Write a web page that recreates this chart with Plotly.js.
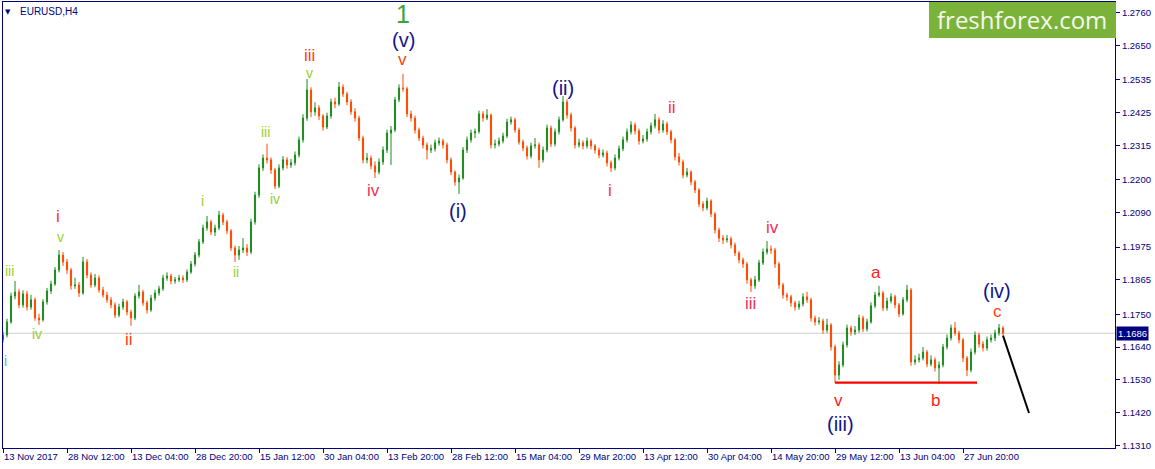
<!DOCTYPE html>
<html><head><meta charset="utf-8">
<script src="https://cdn.plot.ly/plotly-3.0.1.min.js"></script>
<style>html,body{margin:0;padding:0;background:#fff}#chart{width:1155px;height:469px}</style>
</head><body><div id="chart"></div>
<script>
// ---- data: EURUSD, one candle per 4 chart bars (H4) ----
const openP = [
1.1665,1.1680,1.1724,1.1811,1.1824,1.1781,1.1818,1.1774,1.1798,1.1737,
1.1731,1.1791,1.1828,1.1851,1.1898,1.1948,1.1925,1.1898,1.1845,1.1848,
1.1821,1.1925,1.1881,1.1848,1.1871,1.1831,1.1814,1.1798,1.1781,1.1747,
1.1774,1.1791,1.1757,1.1737,1.1811,1.1824,1.1788,1.1764,1.1804,1.1821,
1.1835,1.1871,1.1878,1.1861,1.1865,1.1871,1.1865,1.1891,1.1918,1.1948,
1.1992,1.2039,1.2059,1.2025,1.2039,1.2082,1.2059,1.2029,1.1972,1.1948,
1.1965,1.1972,1.1958,1.2059,1.2149,1.2240,1.2273,1.2267,1.2233,1.2179,
1.2240,1.2267,1.2250,1.2257,1.2283,1.2334,1.2407,1.2501,1.2428,1.2441,
1.2414,1.2377,1.2414,1.2461,1.2454,1.2511,1.2488,1.2461,1.2428,1.2407,
1.2340,1.2267,1.2273,1.2247,1.2226,1.2260,1.2300,1.2357,1.2367,1.2468,
1.2508,1.2505,1.2421,1.2407,1.2367,1.2340,1.2317,1.2300,1.2304,1.2324,
1.2330,1.2317,1.2267,1.2226,1.2193,1.2206,1.2300,1.2334,1.2357,1.2362,
1.2421,1.2407,1.2417,1.2317,1.2320,1.2330,1.2347,1.2394,1.2401,1.2367,
1.2327,1.2307,1.2280,1.2314,1.2317,1.2267,1.2300,1.2374,1.2320,1.2361,
1.2401,1.2461,1.2417,1.2374,1.2317,1.2324,1.2314,1.2330,1.2314,1.2300,
1.2283,1.2290,1.2257,1.2240,1.2273,1.2304,1.2334,1.2361,1.2384,1.2364,
1.2330,1.2337,1.2361,1.2381,1.2401,1.2367,1.2387,1.2361,1.2334,1.2277,
1.2260,1.2216,1.2226,1.2193,1.2166,1.2119,1.2106,1.2129,1.2086,1.2032,
1.2005,1.1999,1.2002,1.1982,1.1955,1.1932,1.1918,1.1865,1.1845,1.1865,
1.1922,1.1958,1.1968,1.1965,1.1918,1.1848,1.1814,1.1808,1.1788,1.1774,
1.1784,1.1808,1.1798,1.1737,1.1724,1.1727,1.1697,1.1714,1.1640,1.1546,
1.1580,1.1647,1.1704,1.1690,1.1697,1.1737,1.1701,1.1724,1.1778,1.1814,
1.1821,1.1771,1.1794,1.1808,1.1781,1.1751,1.1798,1.1831,1.1590,1.1597,
1.1603,1.1623,1.1583,1.1597,1.1570,1.1580,1.1640,1.1670,1.1704,1.1687,
1.1664,1.1603,1.1563,1.1623,1.1680,1.1650,1.1637,1.1664,1.1670,1.1687,
1.1704];
const highP = [
1.1692,1.1735,1.1822,1.1861,1.1835,1.1830,1.1828,1.1815,1.1806,1.1752,
1.1800,1.1838,1.1862,1.1908,1.1965,1.1958,1.1935,1.1905,1.1872,1.1858,
1.1942,1.1935,1.1890,1.1885,1.1880,1.1842,1.1825,1.1808,1.1790,1.1785,
1.1802,1.1798,1.1765,1.1820,1.1848,1.1832,1.1796,1.1815,1.1832,1.1845,
1.1882,1.1890,1.1885,1.1875,1.1882,1.1880,1.1900,1.1928,1.1958,1.2002,
1.2050,1.2079,1.2066,1.2050,1.2096,1.2090,1.2066,1.2035,1.1980,1.1978,
1.2005,1.1985,1.2070,1.2160,1.2252,1.2285,1.2321,1.2275,1.2240,1.2252,
1.2280,1.2276,1.2270,1.2295,1.2345,1.2420,1.2538,1.2510,1.2460,1.2450,
1.2420,1.2425,1.2472,1.2475,1.2528,1.2520,1.2495,1.2470,1.2440,1.2415,
1.2348,1.2290,1.2282,1.2262,1.2272,1.2312,1.2368,1.2380,1.2478,1.2520,
1.2555,1.2512,1.2432,1.2415,1.2375,1.2348,1.2325,1.2318,1.2335,1.2342,
1.2338,1.2325,1.2275,1.2232,1.2218,1.2310,1.2345,1.2368,1.2372,1.2432,
1.2430,1.2437,1.2422,1.2335,1.2342,1.2358,1.2405,1.2412,1.2408,1.2375,
1.2335,1.2315,1.2325,1.2340,1.2325,1.2312,1.2385,1.2382,1.2372,1.2412,
1.2481,1.2470,1.2425,1.2380,1.2338,1.2332,1.2342,1.2338,1.2320,1.2308,
1.2302,1.2298,1.2265,1.2285,1.2315,1.2345,1.2372,1.2396,1.2392,1.2372,
1.2350,1.2372,1.2392,1.2421,1.2410,1.2400,1.2395,1.2368,1.2340,1.2290,
1.2268,1.2240,1.2232,1.2200,1.2172,1.2128,1.2140,1.2135,1.2092,1.2040,
1.2015,1.2015,1.2010,1.1990,1.1962,1.1940,1.1925,1.1872,1.1878,1.1932,
1.1970,1.1995,1.1980,1.1972,1.1925,1.1855,1.1822,1.1815,1.1795,1.1795,
1.1820,1.1825,1.1805,1.1745,1.1740,1.1735,1.1735,1.1720,1.1648,1.1592,
1.1658,1.1715,1.1712,1.1710,1.1748,1.1745,1.1735,1.1790,1.1825,1.1845,
1.1828,1.1805,1.1820,1.1815,1.1788,1.1808,1.1848,1.1838,1.1612,1.1618,
1.1640,1.1630,1.1612,1.1605,1.1592,1.1650,1.1682,1.1715,1.1724,1.1695,
1.1670,1.1610,1.1635,1.1692,1.1688,1.1660,1.1675,1.1682,1.1698,1.1717,
1.1710];
const lowP = [
1.1655,1.1672,1.1718,1.1800,1.1770,1.1772,1.1762,1.1765,1.1728,1.1714,
1.1725,1.1782,1.1818,1.1845,1.1890,1.1912,1.1885,1.1832,1.1835,1.1808,
1.1815,1.1870,1.1838,1.1840,1.1822,1.1805,1.1788,1.1770,1.1737,1.1740,
1.1765,1.1746,1.1711,1.1730,1.1802,1.1778,1.1752,1.1758,1.1795,1.1812,
1.1828,1.1862,1.1850,1.1852,1.1858,1.1855,1.1858,1.1885,1.1910,1.1940,
1.1985,1.2030,1.2015,1.2012,1.2032,1.2048,1.2018,1.1962,1.1925,1.1932,
1.1955,1.1945,1.1952,1.2050,1.2140,1.2230,1.2255,1.2220,1.2169,1.2172,
1.2232,1.2238,1.2240,1.2248,1.2275,1.2325,1.2398,1.2410,1.2415,1.2400,
1.2365,1.2370,1.2405,1.2440,1.2448,1.2478,1.2450,1.2418,1.2395,1.2330,
1.2255,1.2255,1.2235,1.2206,1.2218,1.2250,1.2290,1.2250,1.2360,1.2460,
1.2495,1.2410,1.2395,1.2355,1.2330,1.2305,1.2268,1.2290,1.2295,1.2315,
1.2305,1.2255,1.2215,1.2180,1.2153,1.2200,1.2290,1.2325,1.2340,1.2355,
1.2395,1.2400,1.2305,1.2305,1.2312,1.2322,1.2340,1.2385,1.2358,1.2318,
1.2296,1.2268,1.2272,1.2305,1.2240,1.2258,1.2292,1.2310,1.2312,1.2352,
1.2395,1.2405,1.2362,1.2305,1.2308,1.2302,1.2305,1.2302,1.2288,1.2272,
1.2275,1.2245,1.2226,1.2232,1.2265,1.2296,1.2325,1.2352,1.2352,1.2318,
1.2322,1.2328,1.2352,1.2372,1.2355,1.2358,1.2350,1.2322,1.2265,1.2248,
1.2205,1.2208,1.2182,1.2155,1.2108,1.2095,1.2098,1.2075,1.2020,1.1992,
1.1985,1.1990,1.1970,1.1945,1.1920,1.1905,1.1852,1.1824,1.1835,1.1858,
1.1915,1.1950,1.1952,1.1905,1.1835,1.1802,1.1795,1.1775,1.1762,1.1765,
1.1776,1.1788,1.1725,1.1712,1.1715,1.1685,1.1688,1.1628,1.1520,1.1530,
1.1572,1.1638,1.1678,1.1680,1.1688,1.1690,1.1692,1.1718,1.1770,1.1808,
1.1760,1.1762,1.1786,1.1770,1.1740,1.1745,1.1790,1.1577,1.1580,1.1588,
1.1595,1.1572,1.1575,1.1558,1.1516,1.1572,1.1632,1.1662,1.1678,1.1652,
1.1590,1.1543,1.1555,1.1615,1.1638,1.1625,1.1628,1.1655,1.1660,1.1678,
1.1678];
const closeP = [
1.1680,1.1724,1.1811,1.1824,1.1781,1.1818,1.1774,1.1798,1.1737,1.1731,
1.1791,1.1828,1.1851,1.1898,1.1948,1.1925,1.1898,1.1845,1.1848,1.1821,
1.1925,1.1881,1.1848,1.1871,1.1831,1.1814,1.1798,1.1781,1.1747,1.1774,
1.1791,1.1757,1.1737,1.1811,1.1824,1.1788,1.1764,1.1804,1.1821,1.1835,
1.1871,1.1878,1.1861,1.1865,1.1871,1.1865,1.1891,1.1918,1.1948,1.1992,
1.2039,1.2059,1.2025,1.2039,1.2082,1.2059,1.2029,1.1972,1.1948,1.1965,
1.1972,1.1958,1.2059,1.2149,1.2240,1.2273,1.2267,1.2233,1.2179,1.2240,
1.2267,1.2250,1.2257,1.2283,1.2334,1.2407,1.2501,1.2428,1.2441,1.2414,
1.2377,1.2414,1.2461,1.2454,1.2511,1.2488,1.2461,1.2428,1.2407,1.2340,
1.2267,1.2273,1.2247,1.2226,1.2260,1.2300,1.2357,1.2367,1.2468,1.2508,
1.2505,1.2421,1.2407,1.2367,1.2340,1.2317,1.2300,1.2304,1.2324,1.2330,
1.2317,1.2267,1.2226,1.2193,1.2206,1.2300,1.2334,1.2357,1.2362,1.2421,
1.2407,1.2417,1.2317,1.2320,1.2330,1.2347,1.2394,1.2401,1.2367,1.2327,
1.2307,1.2280,1.2314,1.2317,1.2267,1.2300,1.2374,1.2320,1.2361,1.2401,
1.2461,1.2417,1.2374,1.2317,1.2324,1.2314,1.2330,1.2314,1.2300,1.2283,
1.2290,1.2257,1.2240,1.2273,1.2304,1.2334,1.2361,1.2384,1.2364,1.2330,
1.2337,1.2361,1.2381,1.2401,1.2367,1.2387,1.2361,1.2334,1.2277,1.2260,
1.2216,1.2226,1.2193,1.2166,1.2119,1.2106,1.2129,1.2086,1.2032,1.2005,
1.1999,1.2002,1.1982,1.1955,1.1932,1.1918,1.1865,1.1845,1.1865,1.1922,
1.1958,1.1968,1.1965,1.1918,1.1848,1.1814,1.1808,1.1788,1.1774,1.1784,
1.1808,1.1798,1.1737,1.1724,1.1727,1.1697,1.1714,1.1640,1.1546,1.1580,
1.1647,1.1704,1.1690,1.1697,1.1737,1.1701,1.1724,1.1778,1.1814,1.1821,
1.1771,1.1794,1.1808,1.1781,1.1751,1.1798,1.1831,1.1590,1.1597,1.1603,
1.1623,1.1583,1.1597,1.1570,1.1580,1.1640,1.1670,1.1704,1.1687,1.1664,
1.1603,1.1563,1.1623,1.1680,1.1650,1.1637,1.1664,1.1670,1.1687,1.1704,
1.1686];
const dateLabels = ["13 Nov 2017","28 Nov 12:00","13 Dec 04:00","28 Dec 20:00","15 Jan 12:00",
  "30 Jan 04:00","13 Feb 20:00","28 Feb 12:00","15 Mar 04:00","29 Mar 20:00","13 Apr 12:00",
  "30 Apr 04:00","14 May 20:00","29 May 12:00","13 Jun 04:00","27 Jun 20:00"];
const priceTicks = [1.2760,1.2650,1.2535,1.2425,1.2315,1.2200,1.2090,1.1975,1.1865,1.1750,1.1640,1.1530,1.1420,1.1310];
const lastPrice = 1.1686;
const supportPrice = 1.1521;
const symbolTitle = "EURUSD,H4";

// ---- chart ----
const BARS_PER_LABEL = 16;
const idx = closeP.map((_, i) => i);
const NAVY = '#000080';
const FONT = '"Liberation Sans", Arial, sans-serif';

const trace = {
  type: 'candlestick', x: idx, open: openP, high: highP, low: lowP, close: closeP,
  increasing: {line: {color: '#1f8a1f', width: 1}, fillcolor: '#1f8a1f'},
  decreasing: {line: {color: '#ff4a00', width: 1}, fillcolor: '#ff4a00'},
  whiskerwidth: 0, hoverinfo: 'skip', showlegend: false
};

const GREEN = '#9acd32', TEAL = '#55bba8', CRIMSON = '#f52d55', RED = '#ff2020', ORANGE = '#ff4010', WAVE = '#14148c';
const waveLabels = [
  ['iii', 1.5, 1.1895, GREEN, 14], ['i', 0.6, 1.1593, TEAL, 14], ['iv', 8.5, 1.1683, GREEN, 14],
  ['v', 14.25, 1.2007, GREEN, 14], ['i', 49.75, 1.2129, GREEN, 14], ['ii', 58.25, 1.1891, GREEN, 14],
  ['iii', 65.5, 1.2360, GREEN, 14], ['iv', 68, 1.2136, GREEN, 14], ['v', 76.5, 1.2558, GREEN, 14],
  ['i', 13.75, 1.2076, CRIMSON, 17], ['ii', 31.5, 1.1664, ORANGE, 17], ['iii', 76.5, 1.2615, ORANGE, 17],
  ['v', 99.75, 1.2603, ORANGE, 17], ['iv', 92.5, 1.2166, CRIMSON, 17], ['ii', 167.25, 1.2441, CRIMSON, 17],
  ['i', 151.75, 1.2163, CRIMSON, 17], ['iv', 192.25, 1.2042, CRIMSON, 17], ['iii', 186.75, 1.1785, CRIMSON, 17],
  ['v', 208.75, 1.1462, RED, 17], ['a', 218.25, 1.1888, RED, 17], ['b', 233, 1.1462, RED, 17],
  ['c', 248.5, 1.1760, ORANGE, 17],
  ['(v)', 100, 1.2668, WAVE, 20], ['(i)', 113.75, 1.2096, WAVE, 20], ['(ii)', 140, 1.2508, WAVE, 20],
  ['(iii)', 209.25, 1.1382, WAVE, 20], ['(iv)', 248.5, 1.1828, WAVE, 20],
  ['1', 100, 1.2756, '#3aa53a', 25]
];

const annotations = waveLabels.map(([t, x, y, c, s]) => ({
  text: t, x: x, y: y, xref: 'x', yref: 'y', showarrow: false,
  xanchor: 'center', yanchor: 'middle', font: {family: FONT, size: s, color: c}
}));
annotations.push({text: symbolTitle, xref: 'paper', yref: 'paper', x: 0.0135, y: 0.978,
  xanchor: 'left', yanchor: 'middle', showarrow: false, font: {family: FONT, size: 10, color: NAVY}});
annotations.push({text: '▼', xref: 'paper', yref: 'paper', x: 0.0045, y: 0.978,
  xanchor: 'center', yanchor: 'middle', showarrow: false, font: {family: 'DejaVu Sans', size: 7, color: NAVY}});
annotations.push({text: lastPrice.toFixed(4), xref: 'paper', yref: 'y', x: 1, y: lastPrice, xshift: 1,
  xanchor: 'left', yanchor: 'middle', showarrow: false, bgcolor: NAVY, borderpad: 1,
  font: {family: FONT, size: 9.5, color: '#ffffff'}});
annotations.push({text: 'freshforex.com', xref: 'paper', yref: 'paper', x: 0.9164, y: 0.9605,
  xanchor: 'center', yanchor: 'middle', showarrow: false,
  font: {family: '"Open Sans", sans-serif', size: 24, color: '#f4f8ee'}});

const shapes = [
  {type: 'line', xref: 'paper', yref: 'y', x0: 0, x1: 1, y0: lastPrice, y1: lastPrice,
   line: {color: '#cfcfcf', width: 1}, layer: 'below'},
  {type: 'line', xref: 'x', yref: 'y', x0: 208, x1: 243.5, y0: supportPrice, y1: supportPrice,
   line: {color: '#ff0000', width: 2.3}, layer: 'above'},
  {type: 'line', xref: 'x', yref: 'y', x0: 250, x1: 256.5, y0: 1.1678, y1: 1.1419,
   line: {color: '#000000', width: 2}, layer: 'above'},
  {type: 'rect', xref: 'paper', yref: 'paper', x0: 0.8327, x1: 1.0009, y0: 0.9195, y1: 1.0,
   fillcolor: '#7bb33a', line: {width: 0}, layer: 'above'}
];

const layout = {
  width: 1155, height: 469, margin: {l: 3, r: 40, t: 2, b: 21, pad: 0},
  paper_bgcolor: '#ffffff', plot_bgcolor: '#ffffff', showlegend: false,
  font: {family: FONT, color: NAVY},
  xaxis: {
    range: [0, 278], showgrid: false, zeroline: false, showline: true, mirror: true,
    linecolor: NAVY, linewidth: 1, ticks: 'outside', ticklen: 4, tickcolor: NAVY,
    tickvals: dateLabels.map((_, k) => k * BARS_PER_LABEL), ticktext: dateLabels,
    tickangle: 0, automargin: false,
    ticklabelposition: 'outside right', tickfont: {family: FONT, size: 9.5, color: NAVY},
    rangeslider: {visible: false}, fixedrange: true
  },
  yaxis: {
    side: 'right', range: [1.13017, 1.27958], showgrid: false, zeroline: false,
    showline: true, mirror: true, linecolor: NAVY, linewidth: 1,
    ticks: 'outside', ticklen: 4, tickcolor: NAVY, tickvals: priceTicks, automargin: false,
    ticktext: priceTicks.map(v => v.toFixed(4)), tickfont: {family: FONT, size: 9.5, color: NAVY},
    fixedrange: true
  },
  boxgap: 0.6,
  annotations: annotations, shapes: shapes
};

Plotly.newPlot('chart', [trace], layout, {staticPlot: true, displayModeBar: false});
</script></body></html>
